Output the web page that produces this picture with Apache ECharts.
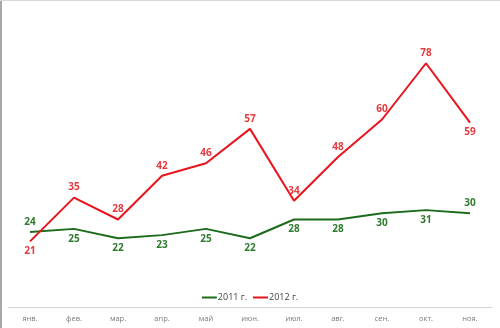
<!DOCTYPE html>
<html>
<head>
<meta charset="utf-8">
<script src="https://cdn.jsdelivr.net/npm/echarts@6/dist/echarts.min.js"></script>
<style>
  html, body { margin: 0; padding: 0; background: #ffffff; }
  #chart { width: 500px; height: 328px; }
</style>
</head>
<body>
<div id="chart"></div>
<script>
// Monthly figures, 2011 vs 2012
const months = ['янв.', 'фев.', 'мар.', 'апр.', 'май', 'июн.', 'июл.', 'авг.', 'сен.', 'окт.', 'ноя.'];
const values2011 = [24, 25, 22, 23, 25, 22, 28, 28, 30, 31, 30];
const values2012 = [21, 35, 28, 42, 46, 57, 34, 48, 60, 78, 59];
const seriesNames = ['2011 г.', '2012 г.'];

// Which points carry their value label above the line (others go below)
const above2011 = new Set([0, 10]);
const below2012 = new Set([0, 10]);

const GREEN = '#1c6b1c';
const GREEN_TEXT = '#2f7a2f';
const RED = '#e8131b';
const RED_TEXT = '#e53a3f';

const labelFont = { fontFamily: 'Open Sans', fontWeight: 'bold', fontSize: 10 };

function points(values, color, isAbove) {
  return values.map((v, i) => ({
    value: v,
    label: {
      show: true,
      position: isAbove(i) ? 'top' : 'bottom',
      distance: 5,
      color: color,
      ...labelFont
    }
  }));
}

const chart = echarts.init(document.getElementById('chart'), null, { renderer: 'canvas' });
chart.setOption({
  animation: false,
  backgroundColor: '#ffffff',
  grid: { left: 8, right: 8, top: 57, bottom: 21, containLabel: false },
  legend: {
    data: seriesNames,
    left: 'center',
    top: 288,
    itemWidth: 15,
    itemHeight: 2,
    itemGap: 6,
    icon: 'rect',
    textStyle: { fontFamily: 'Open Sans', fontSize: 9, color: '#404040', padding: [0, 0, 0, -4] }
  },
  xAxis: {
    type: 'category',
    data: months,
    boundaryGap: true,
    axisLine: { lineStyle: { color: '#d4d4d4', width: 1 } },
    axisTick: { show: false },
    axisLabel: { color: '#7a7a7a', fontFamily: 'Open Sans', fontSize: 7.5, margin: 8 }
  },
  yAxis: {
    type: 'value',
    min: 0,
    max: 80,
    show: false,
    splitLine: { show: false }
  },
  series: [
    {
      name: seriesNames[0],
      type: 'line',
      data: points(values2011, GREEN_TEXT, i => above2011.has(i)),
      symbol: 'circle',
      symbolSize: 0,
      showSymbol: true,
      lineStyle: { color: GREEN, width: 2 },
      itemStyle: { color: GREEN }
    },
    {
      name: seriesNames[1],
      type: 'line',
      data: points(values2012, RED_TEXT, i => !below2012.has(i)),
      symbol: 'circle',
      symbolSize: 0,
      showSymbol: true,
      lineStyle: { color: RED, width: 2 },
      itemStyle: { color: RED }
    }
  ],
  graphic: [
    { type: 'rect', shape: { x: 0, y: 0, width: 2, height: 328 }, style: { fill: '#a8a8a8' }, silent: true },
    { type: 'rect', shape: { x: 0, y: 0, width: 500, height: 1 }, style: { fill: '#d8d8d8' }, silent: true }
  ]
});
</script>
</body>
</html>
